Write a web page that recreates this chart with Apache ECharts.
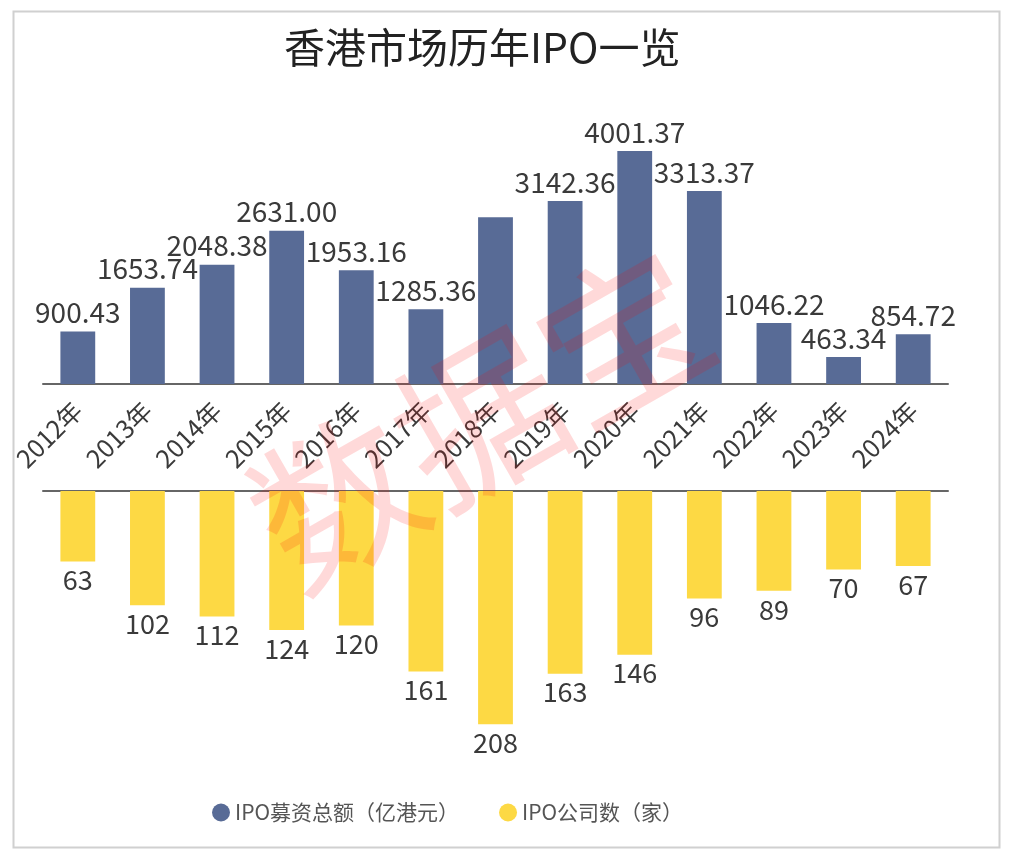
<!DOCTYPE html>
<html><head><meta charset="utf-8">
<script src="https://cdn.jsdelivr.net/npm/echarts@6/dist/echarts.min.js"></script>
<style>html,body{margin:0;padding:0;background:#fff}#c{width:1012px;height:853px}</style>
</head><body><div id="c"></div>
<script>
const years = ['2012年','2013年','2014年','2015年','2016年','2017年','2018年','2019年','2020年','2021年','2022年','2023年','2024年'];
const amount = [900.43,1653.74,2048.38,2631.00,1953.16,1285.36,2865.39,3142.36,4001.37,3313.37,1046.22,463.34,854.72];
const amountHiddenLabel = ['2018年'];
const count = [63,102,112,124,120,161,208,163,146,96,89,70,67];
const seriesNames = ['IPO募资总额（亿港元）','IPO公司数（家）'];
const FONT = '"Noto Sans CJK SC", "Noto Sans", sans-serif';
const chart = echarts.init(document.getElementById('c'));
chart.setOption({
  animation:false,
  textStyle:{fontFamily:FONT},
  title:{text:'香港市场历年IPO一览',left:279,top:22,textStyle:{fontSize:41,fontWeight:'normal',color:'#222',fontFamily:FONT}},
  legend:{top:797,left:207,itemGap:40,icon:'circle',itemWidth:18,itemHeight:18,textStyle:{fontSize:21,color:'#555',fontFamily:FONT},data:seriesNames},
  grid:[{left:43,right:64,top:122,height:262},{left:43,right:64,top:491,height:269}],
  xAxis:[
    {type:'category',gridIndex:0,data:years,position:'bottom',
     axisLine:{lineStyle:{color:'#666',width:2}},
     axisTick:{alignWithLabel:true,length:5,lineStyle:{color:'#666',width:2}},
     axisLabel:{rotate:45,fontSize:25,color:'#3a3a3a',margin:22,interval:0,fontFamily:FONT}},
    {type:'category',gridIndex:1,data:years,position:'top',
     axisLine:{lineStyle:{color:'#666',width:2}},
     axisTick:{alignWithLabel:true,length:5,lineStyle:{color:'#666',width:2}},
     axisLabel:{show:false}}
  ],
  yAxis:[
    {type:'value',gridIndex:0,min:0,max:4500,show:false},
    {type:'value',gridIndex:1,min:0,max:240,inverse:true,show:false}
  ],
  series:[
    {name:seriesNames[0],type:'bar',xAxisIndex:0,yAxisIndex:0,barWidth:'50%',
     itemStyle:{color:'#586b96'},
     label:{show:true,position:'top',distance:5,fontSize:28,color:'#3a3a3a',fontFamily:FONT,formatter:p=>p.value.toFixed(2)},
     data:amount.map((v,i)=>amountHiddenLabel.includes(years[i])?{value:v,label:{show:false}}:v)},
    {name:seriesNames[1],type:'bar',xAxisIndex:1,yAxisIndex:1,barWidth:'50%',
     itemStyle:{color:'#fdd944'},
     label:{show:true,position:'bottom',distance:5,fontSize:27,color:'#3a3a3a',fontFamily:FONT},
     data:count}
  ],
  graphic:[
    {type:'rect',left:11,top:9,shape:{width:986,height:836},style:{fill:'none',stroke:'#d0d0d0',lineWidth:2},z:0},
    {type:'text',x:480,y:418,rotation:0.52,z:100,
     style:{text:'数据宝',fontSize:165,fontFamily:FONT,fill:'rgba(255,0,0,0.15)',textAlign:'center',textVerticalAlign:'middle'}}
  ]
});
</script></body></html>
